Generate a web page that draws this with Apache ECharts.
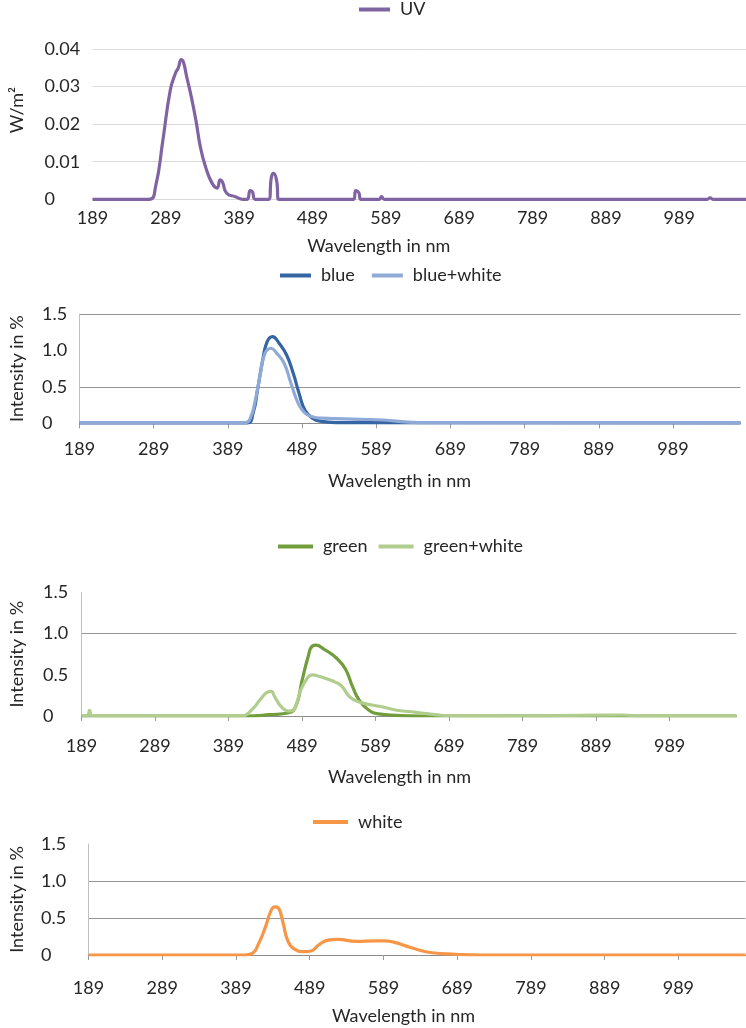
<!DOCTYPE html>
<html>
<head>
<meta charset="utf-8">
<script src="https://cdn.jsdelivr.net/npm/echarts@6/dist/echarts.min.js"></script>
<style>html,body{margin:0;padding:0;background:#fff;}#c{width:746px;height:1028px;}</style>
</head>
<body>
<div id="c"></div>
<script>
// ---- data (wavelength in nm, values) ----
const xTicks = [189, 289, 389, 489, 589, 689, 789, 889, 989];
const xMin = 189, xMax = 1080;

const uvX = [189, 266, 275, 285, 295, 302, 306, 310, 313, 317, 324, 330, 336, 343, 352, 359, 363, 366, 372, 384, 394, 400, 404, 407, 411, 429, 433, 436, 440, 443, 545, 548, 552, 555, 580, 583, 587, 1027, 1031, 1035, 1080];
const uvY = [0, 0, 0.0034, 0.0158, 0.029, 0.0335, 0.035, 0.0372, 0.0365, 0.033, 0.027, 0.021, 0.014, 0.0087, 0.0043, 0.003, 0.0052, 0.0047, 0.0016, 0.0007, 0, 0, 0.0023, 0.002, 0, 0, 0.006, 0.0069, 0.005, 0, 0, 0.0023, 0.0018, 0, 0, 0.0007, 0, 0, 0.0004, 0, 0];

const blueX = [189, 415, 423, 429, 436, 442, 449, 458, 468, 477, 485, 493, 503, 513, 535, 1080];
const blueY = [0.005, 0.005, 0.14, 0.46, 0.87, 1.12, 1.19, 1.10, 0.94, 0.69, 0.41, 0.18, 0.07, 0.03, 0.01, 0.005];
const blueWhiteX = [189, 413, 420, 426, 433, 439, 447, 455, 465, 474, 484, 493, 503, 516, 567, 599, 631, 645, 1080];
const blueWhiteY = [0.01, 0.01, 0.09, 0.32, 0.69, 0.96, 1.03, 0.96, 0.82, 0.55, 0.27, 0.14, 0.09, 0.07, 0.055, 0.045, 0.015, 0.01, 0.01];

const greenX = [189, 413, 445, 471, 481, 489, 497, 503, 508, 519, 535, 548, 558, 567, 580, 593, 618, 650, 1080];
const greenY = [0, 0, 0.016, 0.04, 0.13, 0.43, 0.71, 0.85, 0.86, 0.81, 0.71, 0.57, 0.35, 0.19, 0.07, 0.025, 0.008, 0, 0];
const greenWhiteX = [189, 197, 200, 203, 407, 420, 433, 442, 447, 452, 461, 471, 479, 487, 497, 503, 513, 529, 542, 554, 567, 586, 599, 618, 644, 676, 700, 900, 925, 950, 1080];
const greenWhiteY = [0, 0, 0.07, 0, 0, 0.07, 0.21, 0.29, 0.30, 0.23, 0.11, 0.06, 0.09, 0.31, 0.47, 0.50, 0.48, 0.43, 0.37, 0.23, 0.17, 0.13, 0.11, 0.07, 0.045, 0.01, 0, 0.01, 0.012, 0, 0];

const whiteX = [189, 401, 411, 420, 429, 437, 442, 446, 453, 459, 469, 482, 491, 501, 514, 527, 552, 578, 591, 604, 617, 636, 655, 687, 720, 1080];
const whiteY = [0, 0, 0.02, 0.16, 0.38, 0.61, 0.65, 0.64, 0.43, 0.2, 0.077, 0.045, 0.054, 0.135, 0.2, 0.21, 0.185, 0.19, 0.19, 0.17, 0.13, 0.07, 0.03, 0.01, 0, 0];

const xTitle = 'Wavelength in nm';
const yTitles = ['W/m²', 'Intensity in %', 'Intensity in %', 'Intensity in %'];

// ---- build ----
const zip = (xs, ys) => xs.map((x, i) => [x, ys[i]]);
const FONT = 'Lato';
const TXT = '#262626';
const GRID_DARK = '#959595';
const NONE = 'rgba(0,0,0,0)';

const panels = [
  {grid: {left: 87.5, top: 49, width: 664, height: 150.3}, yMax: 0.04, yInt: 0.01, yMargin: 48, xLabelMargin: 10, xNameGap: 38, xNamePad: [0, 81, 0, 0], yNameGap: 66.5, yNamePad: [0, 0, 0, 28], light: true},
  {grid: {left: 74.5, top: 314, width: 666, height: 109.3}, yMax: 1.5, yInt: 0.5, yMargin: 37.5, xLabelMargin: 17, xNameGap: 49, xNamePad: [0, 21, 0, 0], yNameGap: 53.5, yNamePad: 0, split: [NONE, GRID_DARK, NONE, GRID_DARK]},
  {grid: {left: 76.5, top: 592.5, width: 660, height: 123.5}, yMax: 1.5, yInt: 0.5, yMargin: 38.5, xLabelMargin: 21, xNameGap: 52, xNamePad: [0, 19, 0, 0], yNameGap: 55.5, yNamePad: 0, split: [NONE, NONE, GRID_DARK, NONE]},
  {grid: {left: 83.5, top: 844, width: 662, height: 111}, yMax: 1.5, yInt: 0.5, yMargin: 47.5, xLabelMargin: 24, xNameGap: 52, xNamePad: [0, 27, 0, 0], yNameGap: 62.5, yNamePad: 0, split: [NONE, GRID_DARK, GRID_DARK, NONE]}
];

const textBase = {fontFamily: FONT, fontSize: 18, color: TXT, lineHeight: 18};

const grid = panels.map(p => p.grid);
const xAxis = panels.map((p, i) => ({
  type: 'value', gridIndex: i, min: xMin, max: xMax,
  name: xTitle, nameLocation: 'middle', nameGap: p.xNameGap,
  nameTextStyle: Object.assign({}, textBase, {padding: p.xNamePad}),
  axisLine: {show: true, onZero: false, lineStyle: {color: p.light ? '#d9d9d9' : '#8c8c8c', width: 1}},
  axisTick: {show: !p.light, length: 5, customValues: xTicks, lineStyle: {color: '#9a9a9a'}},
  axisLabel: Object.assign({}, textBase, {customValues: xTicks, margin: p.xLabelMargin}),
  splitLine: {show: false}
}));
const yAxis = panels.map((p, i) => ({
  type: 'value', gridIndex: i, min: 0, max: p.yMax, interval: p.yInt,
  name: yTitles[i], nameLocation: 'middle', nameGap: p.yNameGap,
  nameTextStyle: Object.assign({}, textBase, {padding: p.yNamePad}),
  axisLine: {show: !p.light, lineStyle: {color: '#bfbfbf', width: 1}},
  axisTick: {show: false},
  axisLabel: Object.assign({}, textBase, {
    align: 'left', margin: p.yMargin,
    formatter: v => (v === 0 ? '0' : (p.light ? String(+v.toFixed(2)) : v.toFixed(1)))
  }),
  splitLine: {show: true, lineStyle: {color: p.light ? '#d9d9d9' : p.split, width: 1}}
}));

const mk = (name, xs, ys, idx, color, z) => ({
  name, type: 'line', xAxisIndex: idx, yAxisIndex: idx,
  data: zip(xs, ys), smooth: 0.5, showSymbol: false, symbol: 'none',
  lineStyle: {color, width: 3.2}, itemStyle: {color}, z: z || 2, silent: true
});

const series = [
  mk('UV', uvX, uvY, 0, '#8064A2'),
  mk('blue', blueX, blueY, 1, '#3565A3', 2),
  mk('blue+white', blueWhiteX, blueWhiteY, 1, '#8FAAD6', 3),
  mk('green', greenX, greenY, 2, '#719D3C', 2),
  mk('green+white', greenWhiteX, greenWhiteY, 2, '#B0CD8E', 3),
  mk('white', whiteX, whiteY, 3, '#F79646')
];

const legendBase = {
  icon: 'rect', itemHeight: 4, padding: 0, orient: 'horizontal',
  textStyle: Object.assign({}, textBase, {padding: [0, 0, 0, 5]}),
  selectedMode: false
};
const legend = [
  Object.assign({}, legendBase, {data: ['UV'], left: 359, top: 0.5, itemWidth: 31}),
  Object.assign({}, legendBase, {data: ['blue', 'blue+white'], left: 280, top: 266.5, itemWidth: 31, itemGap: 17}),
  Object.assign({}, legendBase, {data: ['green', 'green+white'], left: 278, top: 537.5, itemWidth: 35, itemGap: 11}),
  Object.assign({}, legendBase, {data: ['white'], left: 313, top: 813, itemWidth: 35})
];

const chart = echarts.init(document.getElementById('c'), null, {renderer: 'canvas'});
chart.setOption({
  animation: false,
  backgroundColor: '#ffffff',
  grid, xAxis, yAxis, series, legend
});
</script>
</body>
</html>
